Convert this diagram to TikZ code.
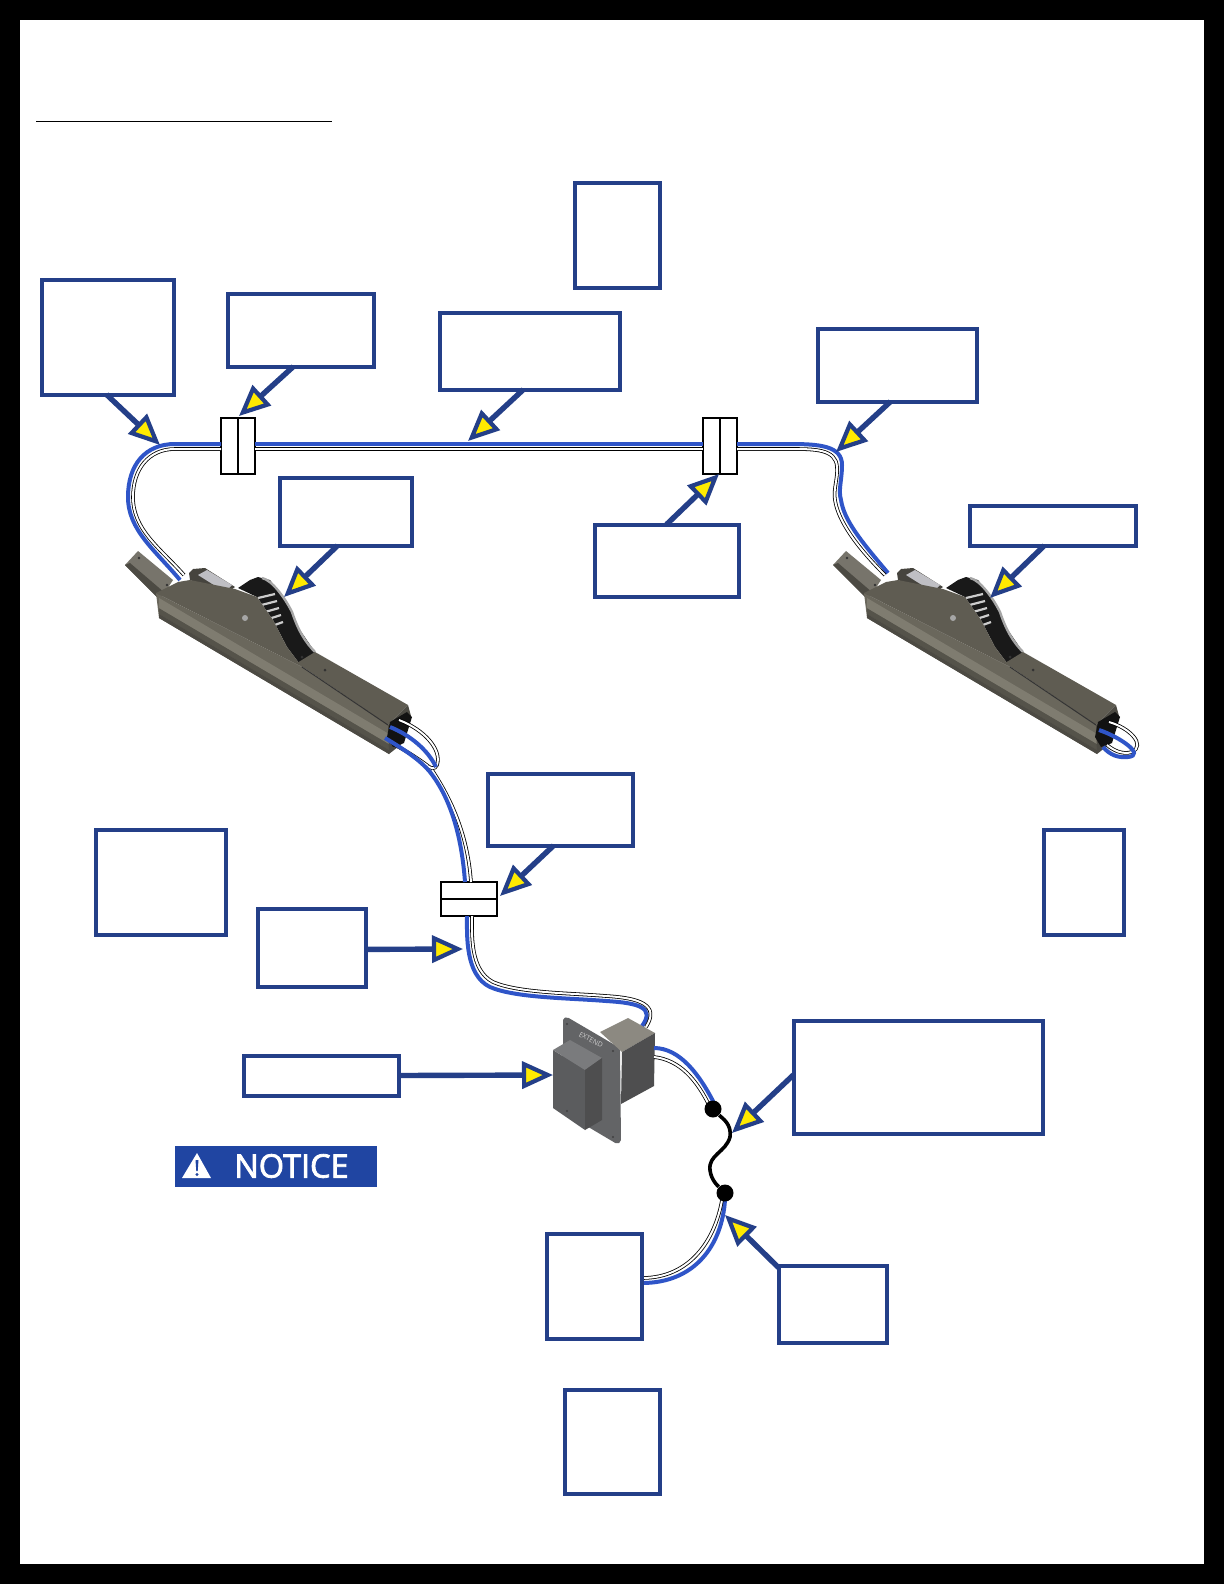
\documentclass[tikz,border=0pt]{standalone}
\usepackage{fontspec}
\setmainfont{Open Sans}
\newfontfamily\noticefont[FakeBold=2.5]{Open Sans}
\usetikzlibrary{arrows.meta}
\definecolor{callblue}{HTML}{243F88}
\definecolor{wireblue}{HTML}{2F55C8}
\definecolor{callyellow}{HTML}{FFEA00}
\definecolor{noticeblue}{HTML}{2045A2}
\definecolor{railtop}{HTML}{5F5C52}
\definecolor{railmid}{HTML}{7F7C70}
\definecolor{railside}{HTML}{6A675C}
\definecolor{railfoot}{HTML}{4C4A43}
\definecolor{railtail}{HTML}{77746B}
\definecolor{motorgrey}{HTML}{46443E}
\definecolor{plategrey}{HTML}{636466}
\definecolor{rockergrey}{HTML}{5B5C5E}
\definecolor{boxtop}{HTML}{8C8981}
\definecolor{boxside}{HTML}{4E4E4F}
\tikzset{
  labelbox/.style={draw=callblue,line width=2pt,fill=white,inner sep=0pt,outer sep=0pt},
  clampbox/.style={draw=black,line width=1.1pt,fill=white,inner sep=0pt,outer sep=0pt},
  calloutarrow/.style={draw=callblue,line width=2.7pt,
    -{Triangle[length=15.5pt,width=13.5pt,fill=callyellow,line width=2.1pt]}},
  bluewire/.style={draw=wireblue,line width=2pt},
  whitewire/.style={draw=black,line width=.4pt,double=white,double distance=1pt},
}
\begin{document}
\begin{tikzpicture}[x=.5pt,y=-.5pt]
    \useasboundingbox (0,0) rectangle (1224,1584);
    \fill[black] (0,0) rectangle (1224,1584);
    \fill[white] (20,20) rectangle (1204,1564);
    \draw[black,line width=.5pt] (36,122) -- (332,122);

    \node[clampbox,minimum width=17pt,minimum height=28pt] (clampa) at (238,446) {};
    \node[clampbox,minimum width=17pt,minimum height=28pt] (clampb) at (720,446) {};
    \node[clampbox,minimum width=28pt,minimum height=17pt] (clampc) at (469,899) {};
    \draw[black,line width=.7pt] (clampa.north) -- (clampa.south);
    \draw[black,line width=.7pt] (clampb.north) -- (clampb.south);
    \draw[black,line width=.7pt] (clampc.west) -- (clampc.east);
    \coordinate (wireaL) at (180,580);
    \coordinate (wirewL) at (184,575);
    \coordinate (wireaR) at (888,573);
    \coordinate (wirewR) at (885,575);

    \draw[bluewire] (wireaL) .. controls (155,550) and (128,530) .. (128,497)
      .. controls (128,465) and (145,444) .. (175,444) -- ([yshift=1pt]clampa.west);
    \draw[whitewire] (wirewL) .. controls (160,548) and (133,530) .. (133,497)
      .. controls (133,470) and (148,449) .. (175,449) -- ([yshift=-1.5pt]clampa.west);
    \draw[bluewire] ([yshift=1pt]clampa.east) -- ([yshift=1pt]clampb.west);
    \draw[whitewire] ([yshift=-1.5pt]clampa.east) -- ([yshift=-1.5pt]clampb.west);
    \draw[bluewire] ([yshift=1pt]clampb.east) -- (790,444)
      .. controls (820,444) and (842,446) .. (842,465)
      .. controls (842,480) and (838,490) .. (841,500)
      .. controls (844,520) and (860,540) .. (wireaR);
    \draw[whitewire] ([yshift=-1.5pt]clampb.east) -- (790,449)
      .. controls (815,449) and (836,449) .. (837,467)
      .. controls (838,478) and (833,490) .. (835,500)
      .. controls (838,520) and (855,545) .. (wirewR);

    \foreach \ax in {0,708} {
      \begin{scope}[shift={(\ax,0)}]
        \fill[railtail] (125,565) -- (138,551) -- (173,580) -- (160,600) -- cycle;
        \fill[railfoot] (125,565) -- (130,563) -- (165,593) -- (157,597) -- cycle;
        \fill[black!80] (139,558) circle (1.3) (167,585) circle (1.3);
        \fill[motorgrey] (189,573) -- (193,569) -- (205,568) -- (235,587)
          -- (225,594) -- (190,580) -- cycle;
        \fill[blue!8!black!25] (198,575) -- (207,570) -- (232,585) -- (225,592) -- cycle;
        \fill[black!90] (238,588) -- (250,580) -- (258,577) -- (270,580) -- (287,602)
          -- (300,630) -- (315,652) -- (302,667) -- (287,647) -- (273,620) -- (257,597) -- cycle;
        \foreach \t in {0,...,4}
          \draw[white!80!black,line width=1.1pt] (258+3.5*\t,598+7*\t) -- (275+2*\t,594+7*\t);
        \draw[black!35,line width=1.2pt] (262,578) .. controls (272,580) and (285,598) .. (292,612)
          .. controls (298,630) and (305,642) .. (315,652);
        \fill[railtop] (297,663) -- (315,652) -- (408,705) -- (388,725) -- cycle;
        \fill[railside] (156,593) -- (302,667) -- (388,725) -- (389,754) -- (159,618) -- cycle;
        \foreach \da/\db/\c in {4/10/railfoot!70!railside,10/20/railmid,0/4/railfoot}
          \fill[\c] (159,618-\da) -- (389,754-\da) -- (389,754-\db) -- (159,618-\db) -- cycle;
        \fill[railtop] (156,593) -- (178,582) -- (190,580) -- (235,589) -- (257,597)
          -- (273,620) -- (287,647) -- (302,667) -- cycle;
        \draw[black!80,line width=.5pt] (302,667) -- (388,725);
        \fill[railfoot] (388,725) -- (408,705) -- (411,716) -- (403,743) -- (389,754) -- cycle;
        \fill[black!93] (390,722) -- (407,712) -- (412,717) -- (404,743) -- (393,747) -- (387,737) -- cycle;
        \fill[black!35] (245,618) circle (3);
        \fill[black!80] (325,670) circle (1.5) (302,657) circle (1.5);
      \end{scope}
    }

    \draw[whitewire] (399,720) .. controls (425,730) and (442,750) .. (437,765)
      .. controls (435,770) and (430,768) .. (428,766);
    \draw[whitewire] (395,745) .. controls (410,753) and (420,760) .. (428,766);
    \draw[bluewire] (390,727) .. controls (410,735) and (428,750) .. (436,767);
    \draw[whitewire] (432,770) .. controls (455,805) and (468,840) .. ([xshift=1pt]clampc.north);
    \draw[bluewire] (385,738) .. controls (405,750) and (420,760) .. (430,772)
      .. controls (452,800) and (462,840) .. ([xshift=-2pt]clampc.north);
    \draw[whitewire] (1109,722) .. controls (1130,728) and (1146,745) .. (1132,752)
      .. controls (1122,755) and (1113,750) .. (1107,745);
    \draw[bluewire] (1099,730) .. controls (1120,737) and (1146,755) .. (1128,757)
      .. controls (1118,758) and (1110,755) .. (1103,747);

    \draw[bluewire] ([xshift=-1pt]clampc.south) .. controls (467,935) and (465,975) .. (490,987)
      .. controls (515,998) and (570,998) .. (606,1001)
      .. controls (640,1003) and (655,1008) .. (642,1026);
    \draw[whitewire] ([xshift=1.5pt]clampc.south) .. controls (472,935) and (470,970) .. (493,982)
      .. controls (518,993) and (570,993) .. (606,996)
      .. controls (640,998) and (660,1005) .. (646,1027);

    \fill[plategrey,rounded corners=1pt] (563,1018) -- (567,1017) -- (620,1048) -- (621,1142) -- (617,1144) -- (563,1112) -- cycle;
    \fill[boxtop] (600,1032) -- (628,1018) -- (655,1033) -- (622,1052) -- cycle;
    \fill[boxside] (622,1052) -- (655,1033) -- (654,1086) -- (621,1104) -- cycle;
    \fill[rockergrey] (553,1050) -- (585,1070) -- (585,1130) -- (553,1108) -- cycle;
    \fill[plategrey!85!white] (553,1050) -- (570,1040) -- (602,1058) -- (585,1070) -- cycle;
    \fill[boxside] (585,1070) -- (602,1058) -- (602,1120) -- (585,1130) -- cycle;
    \fill[black!75] (567,1024) circle (1.2) (613,1051) circle (1.2) (613,1137) circle (1.2) (567,1111) circle (1.2);
    \node[text=black!20,rotate=-28,font=\fontsize{3.5}{4}\selectfont,inner sep=0pt] (switchtext) at (591,1040) {EXTEND};

    \draw[bluewire] (654,1048) .. controls (680,1048) and (700,1075) .. (715,1105);
    \draw[whitewire] (654,1057) .. controls (680,1060) and (697,1080) .. (710,1107);
    \draw[bluewire] (725,1200) .. controls (722,1245) and (695,1283) .. (642,1283);
    \draw[whitewire] (722,1200) .. controls (715,1240) and (690,1278) .. (642,1278);
    \node[circle,fill=black,minimum size=8.5pt,inner sep=0pt] (terma) at (713,1109) {};
    \node[circle,fill=black,minimum size=8.5pt,inner sep=0pt] (termb) at (725,1193) {};
    \draw[black,line width=1.8pt] (terma) .. controls (722,1118) and (732,1124) .. (730,1137)
      .. controls (726,1152) and (708,1155) .. (710,1170)
      .. controls (711,1180) and (718,1186) .. (termb);

    \foreach \n/\x/\y/\w/\h in {b1/107.5/337/132/115,b2/300.5/330/146/73,b3/529.5/351/180/77,
      b4/617/235/85/105,b5/897/365/159/73,b6/345.5/511.5/132/68,b7/666.5/560.5/144/72,
      b8/1052.5/525.5/166/40,b9/560/809.5/145/72,b10/160.5/882/130/105,b11/1083.5/882/80/105,
      b12/311.5/947.5/108/78,b13/321/1075.5/155/40,b14/918/1077/249/113,b15/594.5/1286/95/105,
      b16/832.5/1304/108/77,b17/612/1441.5/95/104}
      \node[labelbox,minimum width=\w*.5pt,minimum height=\h*.5pt] (\n) at (\x,\y) {};

    \foreach \n/\x/\y in {t1/160/445,t2/239/416,t3/468/441,t4/836/452,t5/719/474,t6/284/597,
      t7/990/598,t8/500/896,t9/463/949,t10/553/1075,t11/732/1133,t12/725/1215}
      \coordinate (\n) at (\x,\y);
    \foreach \p/\q in {b1.-91.5/t1,b2.-101.5/t2,b3.-99.5/t3,b5.-100.7/t4,b7.90.8/t5,b6.-103.8/t6,
      b8.-112.5/t7,b9.-100.9/t8,b12.-2.6/t9,b13.0/t10,b14.179.1/t11,b16.146/t12}
      \draw[calloutarrow] (\p) -- (\q);

    \node[fill=noticeblue,minimum width=101pt,minimum height=20.5pt,inner sep=0pt] (noticebar) at (276,1166) {};
    \fill[white] (182,1178) -- (197,1153) -- (211,1178) -- cycle;
    \fill[noticeblue] (195.5,1160) -- (198.5,1160) -- (197.7,1171) -- (196.3,1171) -- cycle (197,1174.5) circle (1.6);
    \node[text=white,font=\noticefont\fontsize{16.2}{18}\selectfont,anchor=west,inner sep=0pt] (noticetext) at (234,1166) {NOTICE};
  \end{tikzpicture}
\end{document}
